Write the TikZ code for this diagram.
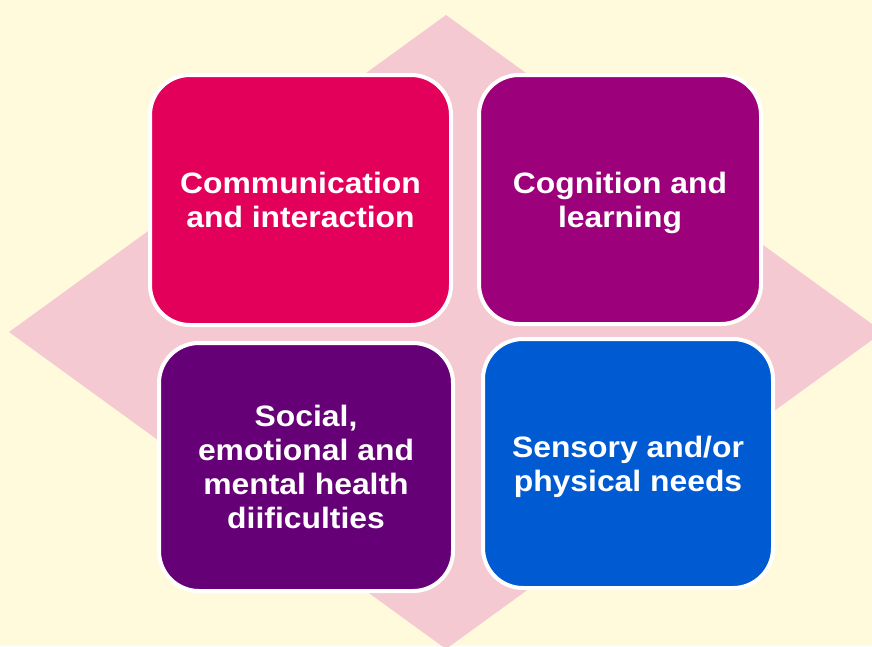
\documentclass[tikz,border=0pt]{standalone}
\usepackage{fontspec}
\setmainfont{Liberation Sans}[FakeStretch=1.08]
\usepackage{tikz}

\definecolor{cream}{HTML}{FFFADC}
\definecolor{rosepink}{HTML}{F4C9D1}
\definecolor{crimson}{HTML}{E3005A}
\definecolor{plum}{HTML}{9C007B}
\definecolor{grape}{HTML}{660077}
\definecolor{royal}{HTML}{005AD2}

\newcommand{\boxtext}[1]{\raisebox{-4pt}[\height][\depth]{\begin{tabular}{@{}c@{}}#1\end{tabular}}}

\begin{document}
\begin{tikzpicture}[
    x=1pt, y=-1pt,
    area/.style={draw=white, line width=4pt, rounded corners=40pt,
      text=white, inner sep=0pt,
      font=\bfseries\fontsize{29.5}{34}\selectfont}]

      \fill[cream] (0,0) rectangle (872,646);
      \useasboundingbox (0,0) rectangle (872,646);

      % diamond behind the boxes
      \fill[rosepink] (446,15) -- (883,332) -- (446,649) -- (9,332) -- cycle;

      \node[area, fill=crimson, minimum width=301pt, minimum height=250pt]
        (comm) at (300.5,200) {\boxtext{Communication\\and interaction}};
      \node[area, fill=plum, minimum width=282pt, minimum height=249pt]
        (cogn) at (620,199.5) {\boxtext{Cognition and\\learning}};
      \node[area, fill=grape, minimum width=294pt, minimum height=248pt]
        (semh) at (306,467) {\boxtext{Social,\\emotional and\\mental health\\diificulties}};
      \node[area, fill=royal, minimum width=290pt, minimum height=249pt]
        (sens) at (628,463.5) {\boxtext{Sensory and/or\\physical needs}};

    \end{tikzpicture}
\end{document}
